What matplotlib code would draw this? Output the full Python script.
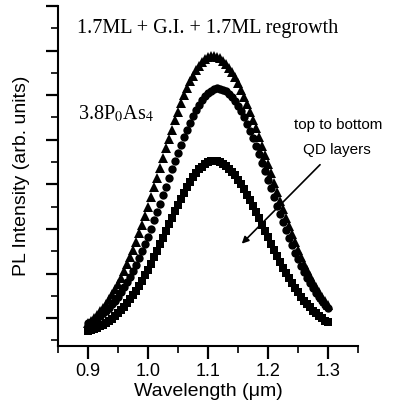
import numpy as np
import matplotlib
matplotlib.use("Agg")
import matplotlib.pyplot as plt
from matplotlib.ticker import MultipleLocator, NullFormatter

plt.rcParams['font.family'] = ['Liberation Sans', 'DejaVu Sans']
plt.rcParams['mathtext.fontset'] = 'stix'

# wavelength grid (um), one point every 5 nm
wavelength = np.linspace(0.90, 1.30, 81)

# top QD layer (triangles)
pl_top = [0.78, 0.89, 1.01, 1.15, 1.30, 1.47, 1.65, 1.85, 2.06, 2.29,
          2.54, 2.81, 3.10, 3.41, 3.73, 4.07, 4.43, 4.80, 5.19, 5.59,
          6.00, 6.43, 6.86, 7.29, 7.73, 8.17, 8.61, 9.04, 9.46, 9.87,
          10.26, 10.63, 10.99, 11.32, 11.62, 11.88, 12.12, 12.32, 12.49, 12.61,
          12.70, 12.74,
          12.75, 12.71, 12.65, 12.54, 12.41, 12.23, 12.03, 11.80, 11.54, 11.25,
          10.94, 10.61, 10.26, 9.89, 9.51, 9.12, 8.71, 8.31, 7.90, 7.49,
          7.08, 6.67, 6.27, 5.88, 5.49, 5.12, 4.76, 4.41, 4.07, 3.75,
          3.45, 3.16, 2.89, 2.63, 2.39, 2.17, 1.96, 1.76, 1.58]

# middle QD layer (circles)
pl_mid = [0.76, 0.83, 0.91, 1.00, 1.10, 1.21, 1.34, 1.47, 1.62, 1.79,
          1.97, 2.17, 2.38, 2.61, 2.85, 3.12, 3.39, 3.69, 4.00, 4.32,
          4.66, 5.01, 5.38, 5.75, 6.13, 6.51, 6.90, 7.28, 7.67, 8.05,
          8.42, 8.78, 9.13, 9.46, 9.77, 10.06, 10.33, 10.56, 10.77, 10.95,
          11.09, 11.19, 11.26, 11.30,
          11.29, 11.25, 11.18, 11.06, 10.91, 10.73, 10.52, 10.28, 10.01, 9.71,
          9.40, 9.06, 8.71, 8.35, 7.97, 7.59, 7.21, 6.82, 6.43, 6.05,
          5.67, 5.30, 4.94, 4.59, 4.26, 3.94, 3.63, 3.34, 3.06, 2.80,
          2.56, 2.34, 2.13, 1.93, 1.76, 1.59, 1.45]

# bottom QD layer (squares)
pl_bot = [0.43, 0.47, 0.52, 0.57, 0.64, 0.71, 0.79, 0.88, 0.98, 1.09,
          1.21, 1.35, 1.50, 1.66, 1.84, 2.03, 2.23, 2.45, 2.68, 2.92,
          3.18, 3.45, 3.73, 4.01, 4.31, 4.60, 4.90, 5.21, 5.50, 5.80,
          6.09, 6.36, 6.63, 6.88, 7.11, 7.32, 7.50, 7.67, 7.80, 7.91,
          7.99, 8.03, 8.05,
          8.04, 7.99, 7.93, 7.83, 7.71, 7.56, 7.40, 7.21, 7.00, 6.77,
          6.53, 6.28, 6.02, 5.75, 5.47, 5.19, 4.90, 4.62, 4.34, 4.06,
          3.79, 3.53, 3.27, 3.03, 2.79, 2.57, 2.36, 2.16, 1.97, 1.79,
          1.63, 1.48, 1.34, 1.21, 1.09, 0.99, 0.89, 0.81]

fig = plt.figure(figsize=(3.94, 4.13), dpi=100)
ax = fig.add_axes([58 / 394, 67 / 413, 300 / 394, 340 / 413])

ax.plot(wavelength, pl_top, '^', color='k', markersize=6.5, markeredgewidth=0)
ax.plot(wavelength, pl_mid, 'o', color='k', markersize=6, markeredgewidth=0)
ax.plot(wavelength, pl_bot, 's', color='k', markersize=5.3, markeredgewidth=0)

ax.set_xlim(0.85, 1.35)
ax.set_ylim(-0.25, 15)

ax.spines['top'].set_visible(False)
ax.spines['right'].set_visible(False)
ax.spines['left'].set_linewidth(1.5)
ax.spines['bottom'].set_linewidth(1.5)

ax.xaxis.set_minor_locator(MultipleLocator(0.05))
ax.set_xticks([0.9, 1.0, 1.1, 1.2, 1.3])
ax.yaxis.set_major_locator(MultipleLocator(2, offset=1))
ax.yaxis.set_minor_locator(MultipleLocator(1))
ax.yaxis.set_major_formatter(NullFormatter())
ax.tick_params(which='major', length=9, width=1.6, labelsize=13, direction='out')
ax.tick_params(which='minor', length=5, width=1.2, direction='out')

ax.set_xlabel('Wavelength (\u03bcm)', fontsize=14, labelpad=2)
ax.set_ylabel('PL Intensity (arb. units)', fontsize=14, labelpad=8)

ax.text(0.882, 13.79, '1.7ML + G.I. + 1.7ML regrowth', family='Liberation Serif',
        fontsize=14.5, va='baseline', ha='left')
ax.text(0.883, 9.94, r'3.8P$_0$As$_4$', family='Liberation Serif',
        fontsize=14.5, va='baseline', ha='left')
ax.text(1.317, 9.67, 'top to bottom', fontsize=11, ha='center', va='center')
ax.text(1.315, 8.55, 'QD layers', fontsize=11, ha='center', va='center')
ax.annotate('', xy=(1.153, 4.25), xytext=(1.29, 7.97),
            arrowprops=dict(arrowstyle='-|>', color='k', lw=1.2,
                            mutation_scale=10))

plt.savefig('out.png', dpi=100)
